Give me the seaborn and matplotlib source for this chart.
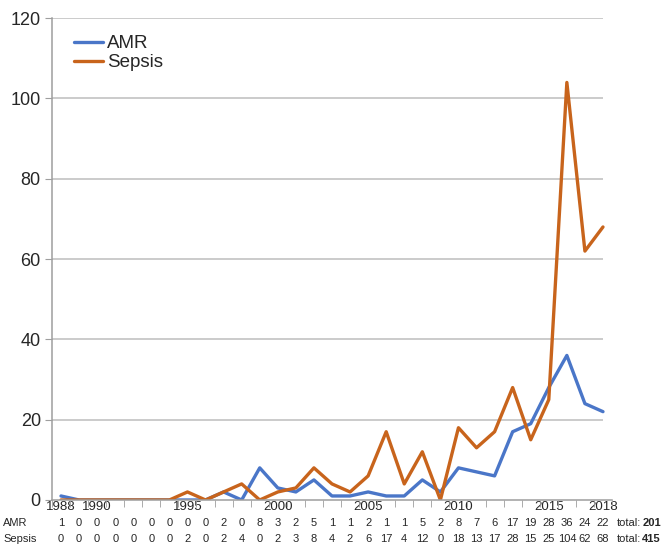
import numpy as np
import pandas as pd
import matplotlib
matplotlib.use("Agg")
import matplotlib.pyplot as plt
import matplotlib.transforms as mtransforms
import seaborn as sns

# --- data ---
years = list(range(1988, 2019))
amr = [1, 0, 0, 0, 0, 0, 0, 0, 0, 2, 0, 8, 3, 2, 5, 1,
       1, 2, 1, 1, 5, 2, 8, 7, 6, 17, 19, 28, 36, 24, 22]
sepsis = [0, 0, 0, 0, 0, 0, 0, 2, 0, 2, 4, 0, 2, 3, 8, 4,
          2, 6, 17, 4, 12, 0, 18, 13, 17, 28, 15, 25, 104, 62, 68]
totals = {"AMR": "201", "Sepsis": "415"}
year_labels = [1988, 1990, 1995, 2000, 2005, 2010, 2015, 2018]
y_ticks = [0, 20, 40, 60, 80, 100, 120]

df = pd.DataFrame({"year": years * 2,
                   "count": amr + sepsis,
                   "series": ["AMR"] * len(years) + ["Sepsis"] * len(years)})

sns.set_style("white")
plt.rcParams["font.family"] = ["Liberation Sans", "DejaVu Sans"]

fig = plt.figure(figsize=(6.62, 5.45), dpi=100)
ax = fig.add_axes([0.0785, 0.0826, 0.846, 0.884])

# gridlines stop at the last category, the axis runs on half a step
for y in y_ticks[1:]:
    ax.hlines(y, 1987.5, 2018, color="#BDBDBD", lw=1.1, zorder=0)

sns.lineplot(data=df, x="year", y="count", hue="series",
             palette={"AMR": "#4A76C8", "Sepsis": "#C8641C"},
             linewidth=2.4, ax=ax, legend=True)

ax.set_xlim(1987.5, 2018.5)
ax.set_ylim(0, 120)
ax.set_yticks(y_ticks)
ax.set_xticks(year_labels)
ax.set_xticks(np.arange(1987.5, 2019, 1), minor=True)
ax.tick_params(axis="y", labelsize=13, length=5, color="#9E9E9E", left=True, pad=3)
ax.tick_params(axis="x", which="major", labelsize=9.5, length=0, pad=1)
ax.tick_params(axis="x", which="minor", length=5, color="#9E9E9E", bottom=True)
ax.set_xlabel("")
ax.set_ylabel("")
for side in ["top", "right"]:
    ax.spines[side].set_visible(False)
for side in ["left", "bottom"]:
    ax.spines[side].set_color("#9E9E9E")
    ax.spines[side].set_linewidth(1.1)

leg = ax.legend(loc="upper left", bbox_to_anchor=(0.01, 1.0), frameon=False,
                fontsize=13.5, handlelength=1.5, handletextpad=0.25, labelspacing=0.1)
leg.set_title(None)

# --- count table below the axis ---
trans = mtransforms.blended_transform_factory(ax.transData, fig.transFigure)
rows = [("AMR", amr, 1 - 523 / 545), ("Sepsis", sepsis, 1 - 539 / 545)]
for name, vals, yy in rows:
    fig.text(3 / 662, yy, name, fontsize=8, va="center", ha="left")
    for yr, v in zip(years, vals):
        ax.text(yr, yy, str(v), transform=trans, fontsize=8,
                va="center", ha="center")
    fig.text(617 / 662, yy, "total:", fontsize=8, va="center", ha="left")
    fig.text(661 / 662, yy, totals[name], fontsize=8, va="center",
             ha="right", fontweight="bold")

fig.savefig("out.png", dpi=100)
